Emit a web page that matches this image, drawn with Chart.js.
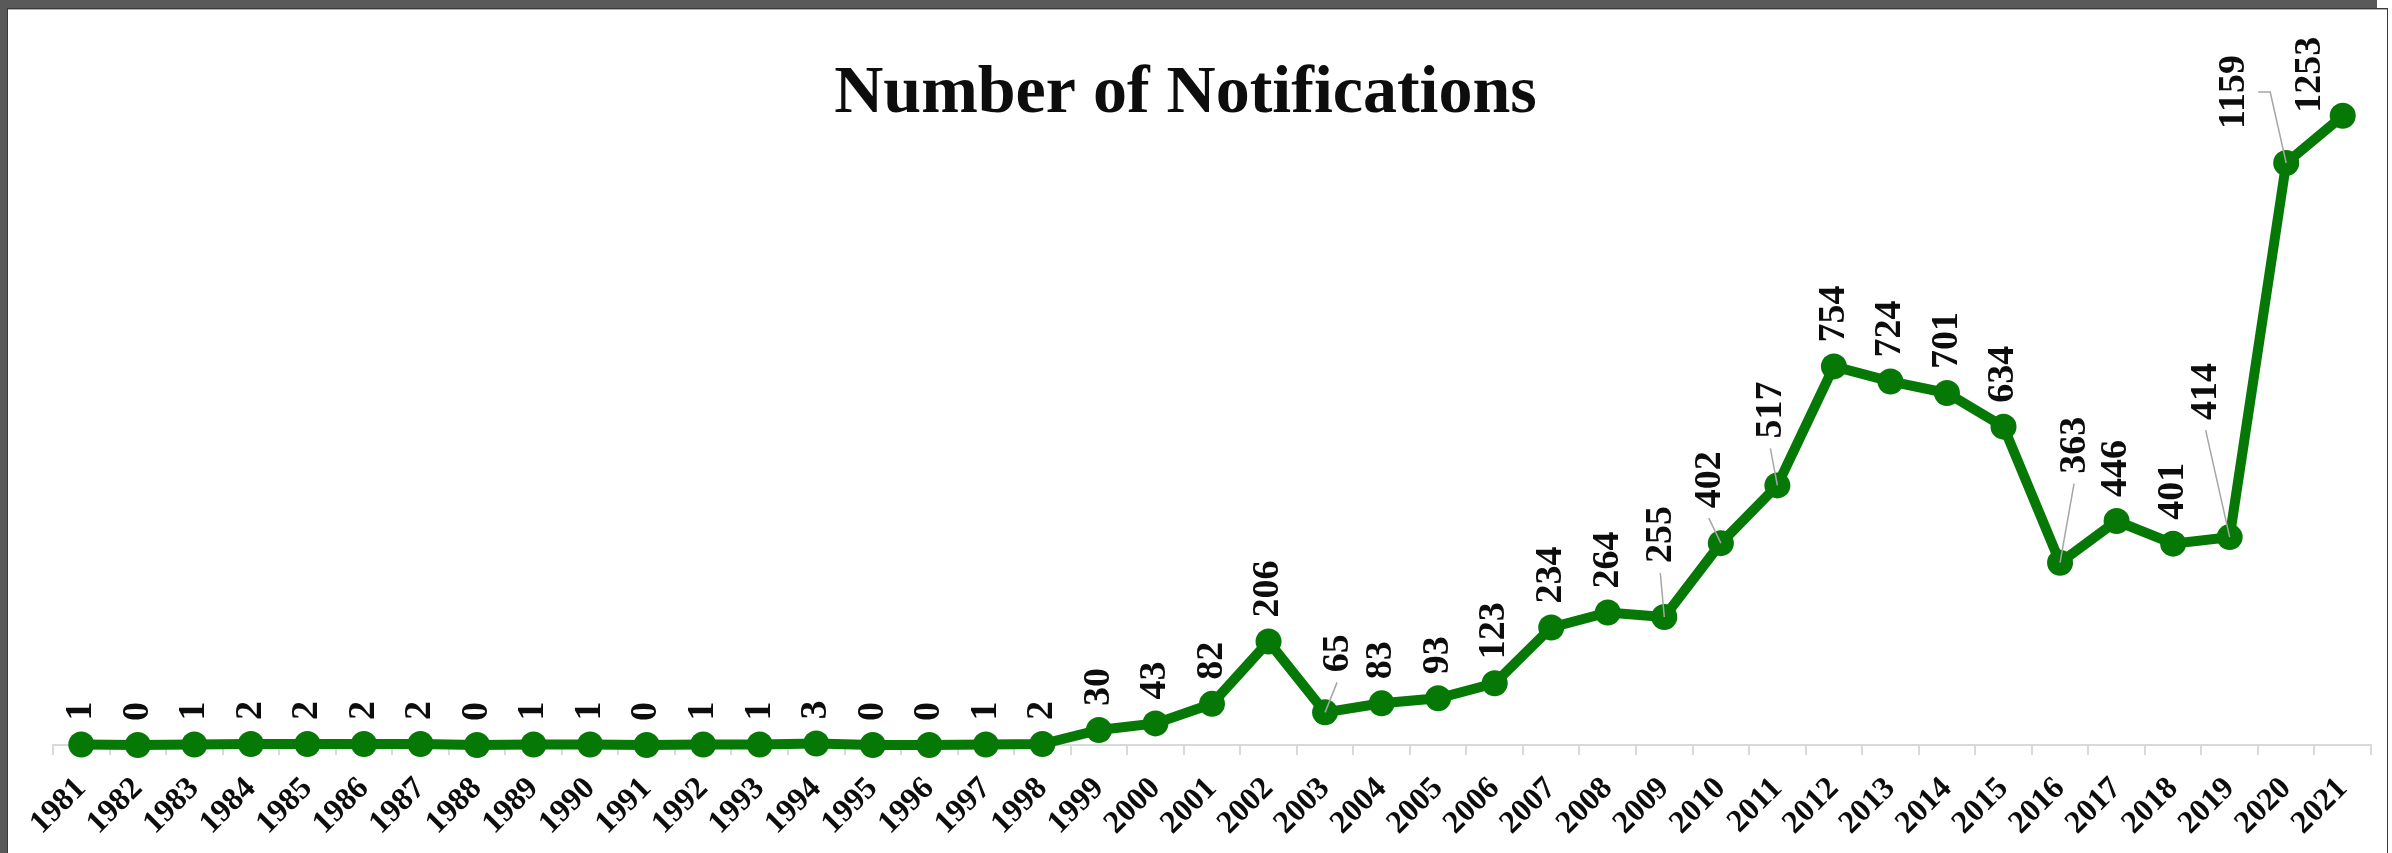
<!DOCTYPE html>
<html>
<head>
<meta charset="utf-8">
<title>Number of Notifications</title>
<script src="https://cdn.jsdelivr.net/npm/chart.js@4.4.1/dist/chart.umd.min.js"></script>
<style>
    html, body { margin: 0; padding: 0; background: #fff; }
    .frame { position: absolute; left: 0; top: 0; width: 2377px; height: 853px; background: #595959; }
    .card { position: absolute; left: 7px; top: 8px; width: 2379px; height: 850px; background: #fff; border: 1px solid #3a3a3a; box-shadow: inset 0 1px 0 #b0b0b0; }
    #chart { position: absolute; left: 0; top: 0; }
</style>
</head>
<body>
<div class="frame"></div>
<div class="card"></div>
<canvas id="chart" width="2392" height="853"></canvas>
<script>
// Data
const years = [
    '1981', '1982', '1983', '1984', '1985', '1986', '1987', '1988', '1989', '1990',
    '1991', '1992', '1993', '1994', '1995', '1996', '1997', '1998', '1999', '2000',
    '2001', '2002', '2003', '2004', '2005', '2006', '2007', '2008', '2009', '2010',
    '2011', '2012', '2013', '2014', '2015', '2016', '2017', '2018', '2019', '2020', '2021'
];
const notifications = [
    1, 0, 1, 2, 2, 2, 2, 0, 1, 1,
    0, 1, 1, 3, 0, 0, 1, 2, 30, 43,
    82, 206, 65, 83, 93, 123, 234, 264, 255, 402,
    517, 754, 724, 701, 634, 363, 446, 401, 414, 1159, 1253
];
const chartTitle = 'Number of Notifications';

// labels that were dragged away from their point: [dx, dy, leader]
const labelShift = {
    '2003': [13, -16, 'line'],
    '2009': [-3, -30, 'line'],
    '2010': [-11, -11, 'line'],
    '2011': [-6, -23, 'line'],
    '2016': [15, -65, 'line'],
    '2019': [-23, -93, 'line'],
    '2020': [-52, -10, 'hook'],
    '2021': [-33, 21, null]
};

const GREEN = '#067806';
const SERIF = '"Liberation Serif", "Times New Roman", serif';

// value labels drawn vertically above each marker
const valueLabels = {
    id: 'valueLabels',
    afterDatasetsDraw(chart) {
        const ctx = chart.ctx;
        const pts = chart.getDatasetMeta(0).data;
        ctx.save();
        ctx.font = 'bold 38px ' + SERIF;
        pts.forEach((p, i) => {
            const text = String(notifications[i]);
            const shift = labelShift[years[i]] || [0, 0, null];
            const bx = p.x + shift[0];
            const by = p.y - 24 + shift[1];
            const len = ctx.measureText(text).width;

            if (shift[2]) {
                ctx.strokeStyle = '#a6a6a6';
                ctx.lineWidth = 1.5;
                ctx.beginPath();
                if (shift[2] === 'hook') {
                    const hy = by - len / 2;
                    ctx.moveTo(bx + 24, hy);
                    ctx.lineTo(bx + 36, hy);
                } else {
                    ctx.moveTo(bx - 1, by + 10);
                }
                ctx.lineTo(p.x, p.y);
                ctx.stroke();
            }

            ctx.save();
            ctx.translate(bx, by);
            ctx.rotate(-Math.PI / 2);
            ctx.fillStyle = '#0d0d0d';
            ctx.textAlign = 'left';
            ctx.textBaseline = 'middle';
            ctx.fillText(text, 0, 0);
            ctx.restore();
        });
        ctx.restore();
    }
};

new Chart(document.getElementById('chart'), {
    type: 'line',
    data: {
        labels: years,
        datasets: [{
            label: chartTitle,
            data: notifications,
            borderColor: GREEN,
            backgroundColor: GREEN,
            borderWidth: 10,
            pointRadius: 13,
            pointBorderWidth: 0,
            pointBackgroundColor: GREEN,
            tension: 0,
            clip: false
        }]
    },
    options: {
        responsive: false,
        animation: false,
        devicePixelRatio: 1,
        layout: {
            padding: { left: 0, right: 21, top: 42, bottom: 0 }
        },
        scales: {
            x: {
                offset: true,
                grid: {
                    offset: true,
                    drawOnChartArea: false,
                    drawTicks: true,
                    tickLength: 10,
                    color: '#d9d9d9',
                    lineWidth: 2
                },
                border: { color: '#d9d9d9', width: 2 },
                ticks: {
                    autoSkip: false,
                    minRotation: 45,
                    maxRotation: 45,
                    padding: 15,
                    color: '#0d0d0d',
                    font: { family: SERIF, size: 32, weight: 'bold' }
                },
                afterFit(scale) {
                    scale.height = 108;
                }
            },
            y: {
                min: 0,
                max: 1400,
                grid: { display: false },
                border: { display: false },
                ticks: { display: false },
                afterFit(scale) {
                    scale.width = 53;
                }
            }
        },
        plugins: {
            legend: { display: false },
            tooltip: { enabled: false },
            title: {
                display: true,
                text: chartTitle,
                color: '#0d0d0d',
                font: { family: SERIF, size: 68, weight: 'bold', lineHeight: 1.2 },
                padding: { top: 12, bottom: -93.6 }
            }
        }
    },
    plugins: [valueLabels]
});
</script>
</body>
</html>
